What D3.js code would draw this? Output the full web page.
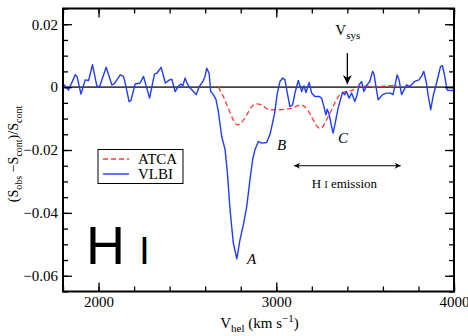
<!DOCTYPE html>
<html>
<head>
<meta charset="utf-8">
<script src="https://cdn.jsdelivr.net/npm/d3@7"></script>
<style>
	body { margin: 0; background: #fff; }
</style>
</head>
<body>
<svg id="chart" width="468" height="336"></svg>
<script>

// VLBI spectrum (km/s, fractional flux)
var vlbiVel = [1800, 1807, 1831, 1869, 1879, 1901, 1925, 1944, 1966, 1991, 2006, 2043, 2075, 2088, 2122, 2140, 2150,
	2172, 2182, 2206, 2234, 2253, 2287, 2315, 2328, 2352, 2376, 2399, 2412, 2431, 2449, 2463, 2474, 2487,
	2500, 2515, 2534, 2549, 2567, 2587, 2599, 2609, 2622, 2631, 2646, 2661, 2674, 2693, 2712, 2725, 2740,
	2758, 2778, 2796, 2815, 2834, 2852, 2867, 2880, 2899, 2918, 2946, 2965, 2990, 3006, 3021, 3036, 3049,
	3062, 3077, 3092, 3105, 3124, 3143, 3156, 3167, 3185, 3199, 3217, 3242, 3255, 3268, 3279, 3287, 3298,
	3311, 3320, 3335, 3348, 3362, 3373, 3386, 3395, 3410, 3424, 3442, 3455, 3466, 3480, 3493, 3511, 3526,
	3542, 3549, 3573, 3598, 3620, 3643, 3657, 3680, 3691, 3705, 3733, 3751, 3779, 3803, 3817, 3830, 3845,
	3854, 3869, 3882, 3904, 3924, 3935, 3948, 3961, 3985, 4000];
var vlbiFlux = [0.0005, 0.0007, -0.0009, 0.0039, 0.0034, -0.0022, 0.0023, 0.0021, 0.0071, 0.0002, 0.0002, 0.0063,
	0.0007, 0.0010, 0.0039, 0.0034, 0.0013,
	-0.0046, -0.0043, 0.0010, 0.0013, 0.0034, -0.0035, 0.0042, 0.0044, 0.0063, 0.0013, 0.0023, 0.0025,
	-0.0014, 0.0002, 0.0010, 0.0004, 0.0029,
	0.0010, -0.0003, -0.0014, -0.0024, 0.0002, 0.0018, 0.0034, 0.0060, 0.0044, -0.0014, -0.0024, -0.0040,
	-0.0078, -0.0157, -0.0199, -0.0273, -0.0390,
	-0.0495, -0.0546, -0.0485, -0.0437, -0.0379, -0.0294, -0.0231, -0.0199, -0.0173, -0.0178, -0.0176,
	-0.0150, -0.0085, -0.0019, 0.0018, 0.0029, 0.0023,
	-0.0019, -0.0062, -0.0056, -0.0019, 0.0021, -0.0014, 0.0004, -0.0017, 0.0015, -0.0019, -0.0030,
	-0.0030, -0.0035, -0.0062, -0.0088, -0.0070, -0.0088,
	-0.0125, -0.0146, -0.0104, -0.0067, -0.0038, -0.0017, -0.0024, -0.0014, -0.0035, -0.0019, -0.0046,
	-0.0024, 0.0007, 0.0018, -0.0014, 0.0007, 0.0018,
	0.0050, 0.0044, -0.0040, -0.0024, -0.0019, -0.0019, -0.0024, 0.0039, 0.0023, -0.0024, 0.0007, 0.0002,
	0.0018, 0.0023, 0.0034, 0.0050, 0.0013,
	-0.0024, -0.0072, -0.0030, 0.0018, 0.0065, 0.0068, 0.0034, -0.0009, -0.0011, -0.0011];

// ATCA spectrum
var atcaVel = [2675, 2702, 2730, 2758, 2780, 2800, 2834, 2862, 2890, 2924, 2952, 2985, 3021, 3058, 3092,
	3120, 3143, 3165, 3193, 3208, 3223, 3242, 3255, 3268, 3283, 3302, 3320, 3339, 3358, 3376, 3399,
	3424, 3448, 3470, 3500, 3560, 3620, 3680];
var atcaFlux = [0.0000, -0.0030, -0.0067, -0.0104, -0.0120, -0.0115, -0.0088, -0.0062, -0.0053, -0.0059,
	-0.0070, -0.0072, -0.0072, -0.0070, -0.0067,
	-0.0059, -0.0057, -0.0065, -0.0088, -0.0104, -0.0120, -0.0130, -0.0130, -0.0120, -0.0104, -0.0083,
	-0.0062, -0.0040, -0.0024, -0.0017, -0.0014,
	-0.0011, -0.0003, 0.0002, 0.0004, 0.0000, 0.0004, 0.0006];

var xTicks = [2000, 3000, 4000];
var xMinorTicks = [1800, 2000, 2200, 2400, 2600, 2800, 3000, 3200, 3400, 3600, 3800, 4000];
var yTicks = [-0.06, -0.04, -0.02, 0, 0.02];
var yMinorTicks = [-0.065, -0.06, -0.055, -0.05, -0.045, -0.04, -0.035, -0.03, -0.025, -0.02, -0.015,
	-0.01, -0.005, 0, 0.005, 0.01, 0.015, 0.02, 0.025];

var vSys = 3400;
var emissionRange = [3100, 3700];


var SERIF = '"Liberation Serif", "Times New Roman", Times, serif';
var SANS = '"Liberation Sans", Arial, Helvetica, sans-serif';

var svg = d3.select('#chart');
var box = {left: 63, right: 454, top: 8.5, bottom: 291.5};

var x = d3.scaleLinear().domain([1800, 4000]).range([box.left, box.right]);
var y = d3.scaleLinear().domain([-0.065, 0.025]).range([box.bottom, box.top]);

// serif text helper, everything on this chart is Times-like except the big H I
function addText(parent, size) {
	return parent.append('text')
		.attr('font-family', SERIF)
		.attr('font-size', size)
		.attr('fill', '#000');
}

function yFormat(d) {
	if (d === 0) {
		return '0';
	}
	return d3.format('.2f')(d);
}

function drawAxes() {

	// minor ticks, all four sides, pointing in
	svg.append('g').attr('transform', 'translate(0,' + box.bottom + ')')
		.call(d3.axisBottom(x).tickValues(xMinorTicks).tickSize(-5).tickFormat(''));
	svg.append('g').attr('transform', 'translate(0,' + box.top + ')')
		.call(d3.axisTop(x).tickValues(xMinorTicks).tickSize(-5).tickFormat(''));
	svg.append('g').attr('transform', 'translate(' + box.left + ',0)')
		.call(d3.axisLeft(y).tickValues(yMinorTicks).tickSize(-5).tickFormat(''));
	svg.append('g').attr('transform', 'translate(' + box.right + ',0)')
		.call(d3.axisRight(y).tickValues(yMinorTicks).tickSize(-5).tickFormat(''));

	// major ticks
	svg.append('g').attr('transform', 'translate(0,' + box.bottom + ')')
		.call(d3.axisBottom(x).tickValues(xTicks).tickSize(-9).tickPadding(5).tickFormat(d3.format('d')));
	svg.append('g').attr('transform', 'translate(0,' + box.top + ')')
		.call(d3.axisTop(x).tickValues(xTicks).tickSize(-9).tickFormat(''));
	svg.append('g').attr('transform', 'translate(' + box.left + ',0)')
		.call(d3.axisLeft(y).tickValues(yTicks).tickSize(-9).tickPadding(5).tickFormat(yFormat));
	svg.append('g').attr('transform', 'translate(' + box.right + ',0)')
		.call(d3.axisRight(y).tickValues(yTicks).tickSize(-9).tickFormat(''));

	svg.selectAll('.domain').remove();
	svg.selectAll('.tick line').attr('stroke', '#000').attr('stroke-width', 1.3);
	svg.selectAll('g').attr('font-family', SERIF).attr('font-size', 15);
	svg.selectAll('.tick text').attr('fill', '#000');

	// frame
	svg.append('rect')
		.attr('x', box.left).attr('y', box.top)
		.attr('width', box.right - box.left).attr('height', box.bottom - box.top)
		.attr('fill', 'none').attr('stroke', '#000').attr('stroke-width', 2);
}

function drawSpectra() {

	// zero line
	svg.append('line')
		.attr('x1', box.left).attr('x2', box.right)
		.attr('y1', y(0)).attr('y2', y(0))
		.attr('stroke', '#444').attr('stroke-width', 1.7);

	var atcaLine = d3.line()
		.x(function(d, i) { return x(atcaVel[i]); })
		.y(function(d) { return y(d); })
		.curve(d3.curveMonotoneX);

	svg.append('path')
		.attr('d', atcaLine(atcaFlux))
		.attr('fill', 'none')
		.attr('stroke', '#ff3a2e')
		.attr('stroke-width', 1.3)
		.attr('stroke-dasharray', '5,3');

	var vlbiLine = d3.line()
		.x(function(d, i) { return x(vlbiVel[i]); })
		.y(function(d) { return y(d); });

	svg.append('path')
		.attr('d', vlbiLine(vlbiFlux))
		.attr('fill', 'none')
		.attr('stroke', '#1f3cff')
		.attr('stroke-width', 1.4)
		.attr('stroke-linejoin', 'round');
}

function drawLabels() {

	// y label, rotated
	var yl = addText(svg, 14)
		.attr('transform', 'translate(18,' + ((box.top + box.bottom) / 2 + 4) + ') rotate(-90)')
		.attr('text-anchor', 'middle');
	yl.append('tspan').text('(S');
	yl.append('tspan').attr('dy', 4).attr('font-size', 10).text('obs');
	yl.append('tspan').attr('dy', -4).text(' \u2212S');
	yl.append('tspan').attr('dy', 4).attr('font-size', 10).text('cont');
	yl.append('tspan').attr('dy', -4).text(')/S');
	yl.append('tspan').attr('dy', 4).attr('font-size', 10).text('cont');

	// x label
	var xl = addText(svg, 15)
		.attr('x', (box.left + box.right) / 2 + 1)
		.attr('y', 328)
		.attr('text-anchor', 'middle');
	xl.append('tspan').text('V');
	xl.append('tspan').attr('dy', 4).attr('font-size', 11).text('hel');
	xl.append('tspan').attr('dy', -4).text(' (km s');
	xl.append('tspan').attr('dy', -6).attr('font-size', 11).text('\u22121');
	xl.append('tspan').attr('dy', 6).text(')');

	// big H I
	svg.append('text')
		.attr('x', 86).attr('y', 264)
		.attr('font-family', SANS)
		.attr('font-size', 54)
		.text('H');
	svg.append('text')
		.attr('x', 139).attr('y', 264)
		.attr('font-family', SANS)
		.attr('font-size', 39)
		.text('I');

	// feature letters
	var features = [['A', 2835, -0.0564], ['B', 3004, -0.0199], ['C', 3347, -0.0177]];
	svg.selectAll('text.feature')
		.data(features)
		.enter().append('text')
		.attr('class', 'feature')
		.attr('x', function(d) { return x(d[1]); })
		.attr('y', function(d) { return y(d[2]); })
		.attr('font-family', SERIF)
		.attr('font-size', 15)
		.attr('font-style', 'italic')
		.text(function(d) { return d[0]; });
}

function drawArrows() {

	var defs = svg.append('defs');
	defs.append('marker')
		.attr('id', 'bigHead')
		.attr('viewBox', '0 0 10 10')
		.attr('refX', 10).attr('refY', 5)
		.attr('markerWidth', 10).attr('markerHeight', 9)
		.attr('markerUnits', 'userSpaceOnUse')
		.attr('orient', 'auto')
		.append('path').attr('d', 'M0,0 L10,5 L0,10 L3,5 Z').attr('fill', '#000');
	defs.append('marker')
		.attr('id', 'smallHead')
		.attr('viewBox', '0 0 10 10')
		.attr('refX', 10).attr('refY', 5)
		.attr('markerWidth', 8).attr('markerHeight', 6)
		.attr('markerUnits', 'userSpaceOnUse')
		.attr('orient', 'auto-start-reverse')
		.append('path').attr('d', 'M0,0 L10,5 L0,10 L3,5 Z').attr('fill', '#000');

	// V_sys
	svg.append('line')
		.attr('x1', x(vSys)).attr('x2', x(vSys))
		.attr('y1', y(0) - 34).attr('y2', y(0) - 3)
		.attr('stroke', '#000').attr('stroke-width', 1.3)
		.attr('marker-end', 'url(#bigHead)');

	var vs = addText(svg, 15)
		.attr('x', x(vSys) - 12).attr('y', 35);
	vs.append('tspan').text('V');
	vs.append('tspan').attr('dy', 4).attr('font-size', 11).text('sys');

	// H I emission range
	var ey = 165.7;
	svg.append('line')
		.attr('x1', x(emissionRange[0])).attr('x2', x(emissionRange[1]))
		.attr('y1', ey).attr('y2', ey)
		.attr('stroke', '#000').attr('stroke-width', 1.1)
		.attr('marker-start', 'url(#smallHead)')
		.attr('marker-end', 'url(#smallHead)');

	var et = addText(svg, 13)
		.attr('x', x(3200)).attr('y', 188);
	et.append('tspan').text('H ');
	et.append('tspan').attr('font-size', 9.5).text('I');
	et.append('tspan').text(' emission');
}

function drawLegend() {
	var lg = svg.append('g');
	lg.append('rect')
		.attr('x', 98).attr('y', 149.5).attr('width', 85).attr('height', 34)
		.attr('fill', '#fff').attr('stroke', '#000').attr('stroke-width', 1);

	var entries = [['ATCA', '#ff3a2e', '5,3'], ['VLBI', '#1f3cff', null]];
	entries.forEach(function(e, i) {
		var ly = 159 + i * 15;
		lg.append('line')
			.attr('x1', 103).attr('x2', 129)
			.attr('y1', ly).attr('y2', ly)
			.attr('stroke', e[1]).attr('stroke-width', 1.4)
			.attr('stroke-dasharray', e[2]);
		addText(lg, 15)
			.attr('x', 138).attr('y', ly + 5)
			.text(e[0]);
	});
}

drawSpectra();
drawAxes();
drawLabels();
drawArrows();
drawLegend();

</script>
</body>
</html>
